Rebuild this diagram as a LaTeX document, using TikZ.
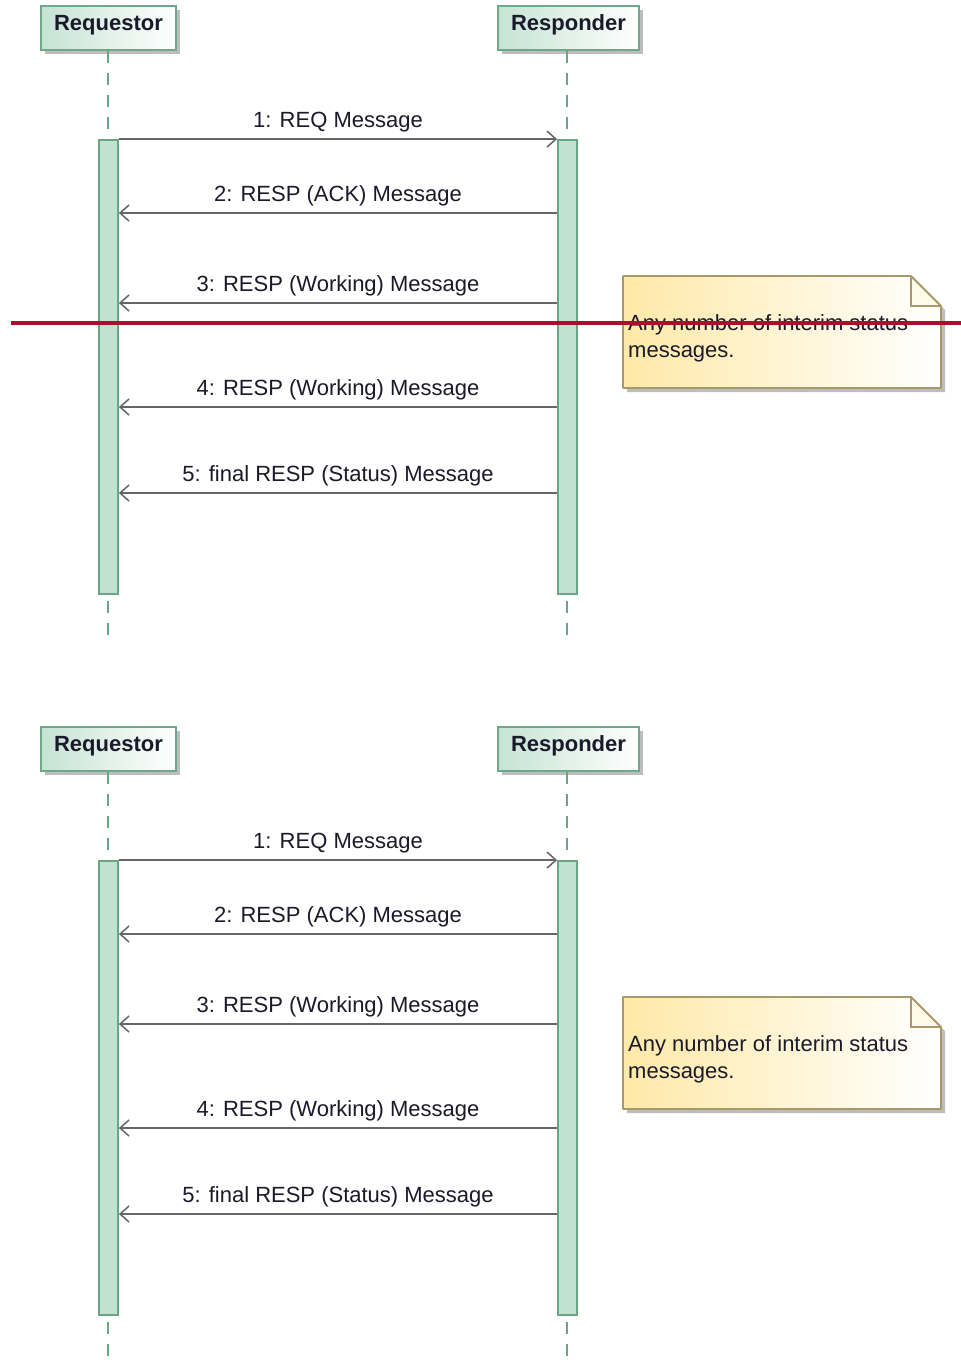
\documentclass[tikz,border=0pt]{standalone}
\usepackage{fontspec}
\setmainfont{Liberation Sans}
\usetikzlibrary{arrows.meta,shadows}
\definecolor{boxL}{HTML}{C5E3D3}
\definecolor{boxB}{HTML}{6EA888}
\definecolor{barF}{HTML}{C2E2D1}
\definecolor{barB}{HTML}{6AA584}
\definecolor{msgC}{HTML}{666666}
\definecolor{noteY}{HTML}{FFE9A8}
\definecolor{noteB}{HTML}{A8996A}
\definecolor{redL}{HTML}{B00C2E}
\definecolor{shd}{HTML}{BDBDBD}
\definecolor{txt}{HTML}{1A1A2A}
\tikzset{
  head/.style={draw=boxB, line width=1.8pt, left color=boxL, right color=white,
    minimum height=44pt, font=\bfseries\fontsize{22}{25}\selectfont, text=txt,
    text height=15pt, text depth=10pt, inner xsep=0pt,
    drop shadow={shadow xshift=4pt, shadow yshift=-4pt, fill=shd, opacity=1}},
  lifeline/.style={draw=barB, line width=1.5pt, dash pattern=on 12pt off 10pt},
  actbar/.style={draw=barB, fill=barF, line width=1.8pt, minimum width=19pt,
    minimum height=454pt, inner sep=0pt},
  msg/.style={draw=msgC, line width=1.8pt,
    -{Straight Barb[length=9pt,width=16pt,line width=1.5pt]}},
  lbl/.style={font=\fontsize{22}{27}\selectfont, text=txt},
  notetext/.style={lbl, align=left, inner sep=0pt, anchor=north west}
}
\newcommand\seqdiag{%
  \node[head, minimum width=135pt] (req) at (108.5,28) {Requestor};
  \node[head, minimum width=141pt] (res) at (568.5,28) {Responder};
  \draw[lifeline] (req.south -| 108,0) -- (108,640);
  \draw[lifeline] (res.south -| 567,0) -- (567,640);
  \node[actbar] (ra) at (108.5,367) {};
  \node[actbar] (sa) at (567.5,367) {};
  \draw[msg] (ra.north east) -- node[lbl, above=3pt] {1: REQ Message} (sa.north west);
  \draw[msg] (sa.west |- 0,213) -- node[lbl, above=3pt] {2: RESP (ACK) Message} (ra.east |- 0,213);
  \draw[msg] (sa.west |- 0,303) -- node[lbl, above=3pt] {3: RESP (Working) Message} (ra.east |- 0,303);
  \draw[msg] (sa.west |- 0,407) -- node[lbl, above=3pt] {4: RESP (Working) Message} (ra.east |- 0,407);
  \draw[msg] (sa.west |- 0,493) -- node[lbl, above=3pt] {5: final RESP (Status) Message} (ra.east |- 0,493);
  \fill[shd] (627,280) -- (915,280) -- (945,310) -- (945,392) -- (627,392) -- cycle;
  \shade[left color=noteY, right color=white] (623,276) -- (911,276) -- (941,306) -- (941,388) -- (623,388) -- cycle;
  \fill[noteY!25] (911,276) -- (911,306) -- (941,306) -- cycle;
  \draw[noteB, line width=1.8pt, line join=round] (623,276) -- (911,276) -- (941,306) -- (941,388) -- (623,388) -- cycle;
  \draw[noteB, line width=1.4pt] (911,276) -- (911,306) -- (941,306);
  \node[notetext] (note) at (628,314) {Any number of interim status\\messages.};
}
\begin{document}
\begin{tikzpicture}[x=1pt,y=-1pt]
  \useasboundingbox (0,0) rectangle (961,1360);
  \fill[white] (0,0) rectangle (961,1360);
  \begin{scope}[name prefix=a-]
    \seqdiag
  \end{scope}
  \begin{scope}[shift={(0,721)}, name prefix=b-]
    \seqdiag
  \end{scope}
  \draw[redL, line width=4.5pt] (11,323) -- (961,323);
\end{tikzpicture}
\end{document}
